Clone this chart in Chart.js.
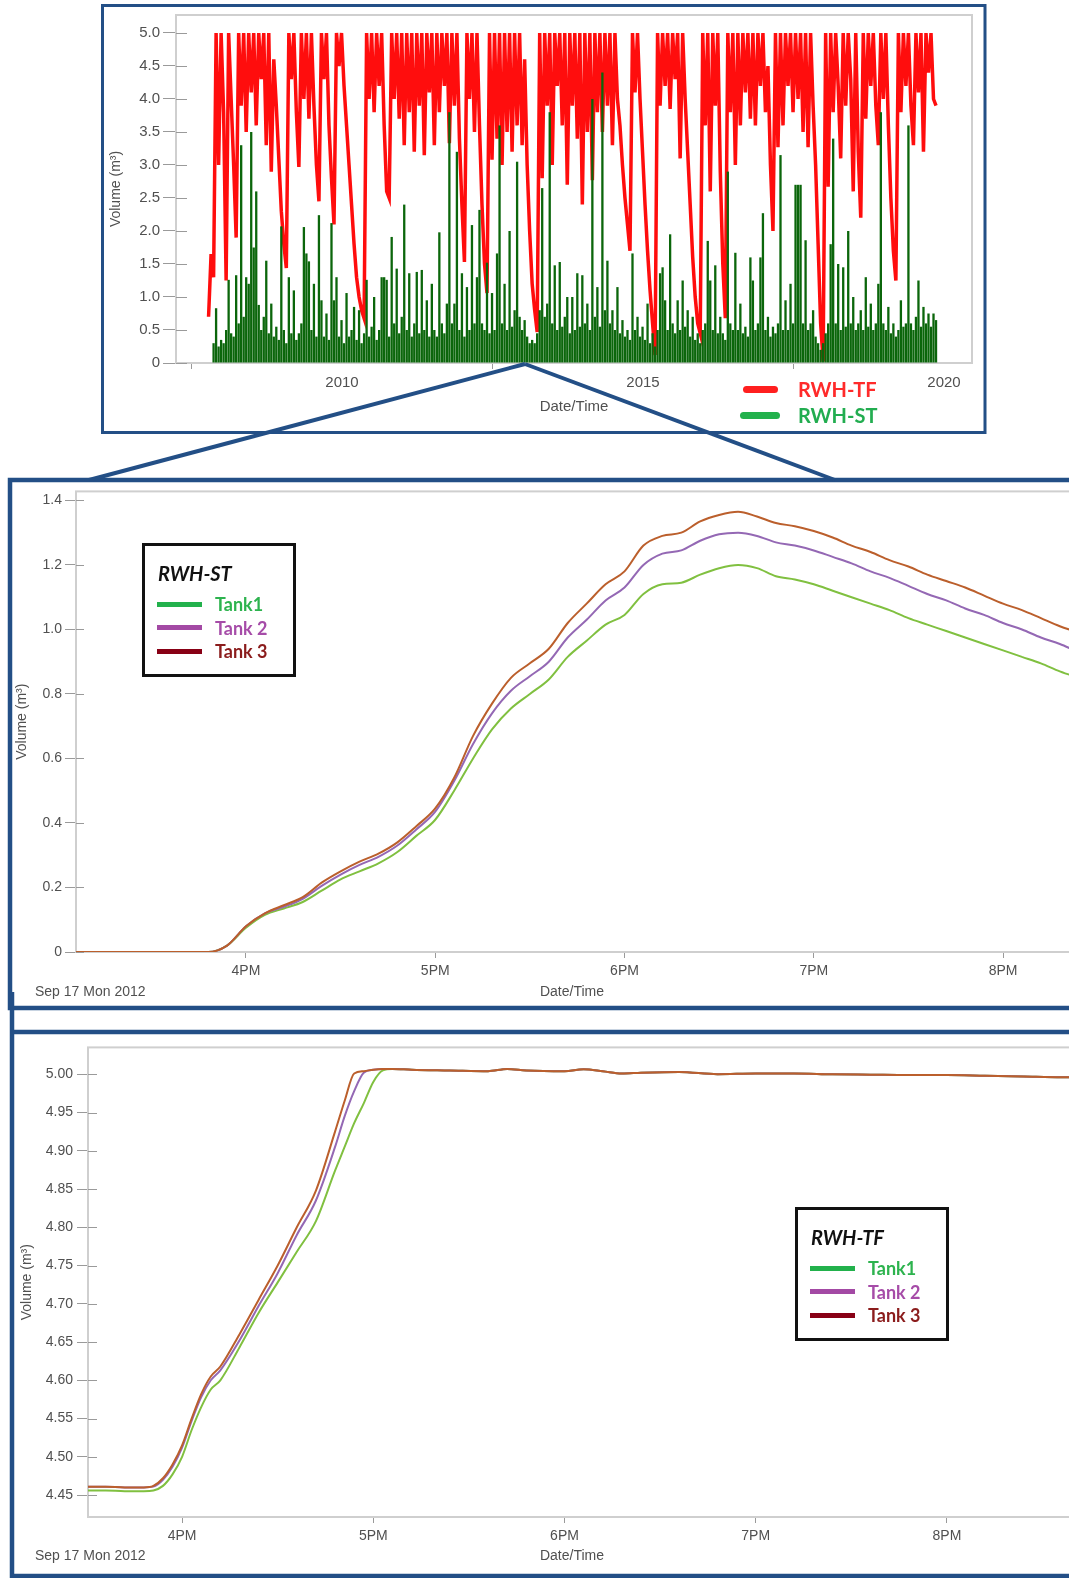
<!DOCTYPE html>
<html>
<head>
<meta charset="utf-8">
<script src="https://cdn.jsdelivr.net/npm/chart.js@4.4.1/dist/chart.umd.min.js"></script>
<style>
  html, body { margin: 0; padding: 0; background: #fff; width: 1069px; height: 1578px; overflow: hidden; }
  body { position: relative; font-family: 'Liberation Sans', Arial, sans-serif; }
  canvas.chart { position: absolute; left: 0; }
  .note { position: absolute; color: #505050; font-size: 14px; line-height: 14px; white-space: nowrap; }
  .lgbox { position: absolute; border: 3px solid #111; box-sizing: border-box; background: #fff; z-index: 6; }
  .lgtitle { position: absolute; font-family: Lato, 'Open Sans', sans-serif; font-weight: 700; font-style: italic; font-size: 20px; line-height: 20px; color: #111; white-space: nowrap; z-index: 7; }
  .lgswatch { position: absolute; height: 5px; z-index: 7; }
  .lgtext { position: absolute; font-family: Lato, 'Open Sans', sans-serif; font-weight: 700; font-size: 18px; line-height: 18px; white-space: nowrap; z-index: 7; }
  #frames { position: absolute; left: 0; top: 0; pointer-events: none; z-index: 5; }
</style>
</head>
<body>
<canvas id="overview" class="chart" width="1000" height="440" style="top:0px"></canvas>
<canvas id="stDetail" class="chart" width="1130" height="530" style="top:480px"></canvas>
<canvas id="tfDetail" class="chart" width="1130" height="543" style="top:1035px"></canvas>

<script>
// ---------- Overview: tank volumes, one value every half month ----------
const overviewStart = 2007.784;      // first sample (decimal year)
const overviewStep = 1 / 24;         // half-month sampling
const yearTicks = [2010, 2015, 2020];
const overviewVolTicks = [0, 0.5, 1, 1.5, 2, 2.5, 3, 3.5, 4, 4.5, 5];

const rwhTF = [
  0.7, 1.65, 1.3, 5, 3.0, 5, 3.8, 1.25, 5, 4.0,
  3.0, 1.9, 5, 3.9, 5, 3.5, 5, 4.1, 5, 3.6,
  5, 4.3, 5, 3.3, 5, 2.9, 4.6, 3.9, 3.1, 2.3,
  1.8, 1.44, 5, 4.3, 5, 3.8, 2.97, 5, 4.0, 5,
  3.7, 5, 3.9, 3.0, 2.45, 5, 4.3, 5, 3.6, 2.8,
  2.1, 5, 4.5, 5, 4.2, 3.6, 3.0, 2.4, 1.8, 1.3,
  1.0, 0.8, 0.68, 5, 4.0, 5, 3.8, 5, 4.2, 5,
  3.6, 2.6, 2.5, 5, 4.0, 5, 3.7, 5, 3.3, 5,
  3.8, 5, 3.2, 5, 3.9, 5, 3.15, 5, 4.1, 5,
  3.3, 5, 3.8, 5, 4.2, 5, 3.33, 5, 3.9, 5,
  3.4, 2.4, 1.53, 5, 4.0, 5, 3.5, 5, 3.6, 2.4,
  1.5, 1.06, 5, 3.08, 5, 3.4, 5, 3.0, 5, 3.5,
  5, 3.2, 5, 3.6, 5, 3.3, 4.6, 3.0, 2.0, 1.2,
  0.8, 0.47, 5, 2.8, 5, 3.9, 5, 3.0, 5, 4.2,
  5, 3.6, 5, 2.7, 5, 3.9, 5, 3.4, 5, 2.4,
  5, 3.5, 5, 2.77, 5, 3.8, 5, 3.5, 5, 3.9,
  5, 3.3, 5, 4.0, 3.6, 3.0, 2.5, 2.1, 1.7, 5,
  4.1, 5, 4.0, 3.2, 2.4, 1.7, 1.1, 0.6, 0.12, 5,
  3.9, 5, 4.2, 5, 3.85, 5, 4.3, 5, 3.1, 5,
  4.0, 3.2, 2.4, 1.6, 1.0, 0.6, 0.45, 5, 3.6, 5,
  2.6, 5, 3.9, 5, 2.9, 1.5, 0.68, 5, 3.8, 5,
  3.0, 5, 3.6, 5, 4.1, 5, 3.7, 5, 3.6, 5,
  4.2, 5, 3.8, 4.5, 3.0, 2.0, 5, 3.27, 5, 3.6,
  5, 4.2, 5, 3.8, 5, 4.0, 5, 3.5, 5, 3.27,
  5, 3.9, 3.0, 1.8, 0.6, 0.02, 5, 2.67, 5, 3.8,
  5, 4.2, 3.1, 5, 3.9, 5, 4.3, 2.6, 5, 3.2,
  2.2, 5, 3.7, 5, 4.2, 5, 3.9, 3.3, 5, 4.0,
  5, 3.6, 2.5, 1.7, 1.25, 5, 3.8, 5, 4.2, 5,
  3.9, 3.3, 5, 4.1, 5, 3.2, 5, 4.4, 5, 4.0,
  3.9
];

const rwhST = [
  0, 0, 0.3, 0.83, 0.25, 0.35, 0.3, 0.5, 1.26, 0.45,
  0.4, 1.33, 0.6, 3.3, 0.7, 1.3, 1.2, 3.5, 1.75, 2.6,
  0.88, 0.5, 0.7, 1.55, 0.45, 0.9, 0.4, 0.55, 0.35, 2.07,
  0.5, 0.3, 1.3, 0.45, 1.1, 0.35, 0.45, 0.6, 2.06, 1.66,
  1.54, 0.5, 1.2, 0.4, 2.24, 0.95, 0.4, 0.75, 0.35, 2.12,
  0.95, 1.3, 0.4, 0.65, 0.3, 1.06, 0.4, 0.5, 0.85, 0.35,
  0.8, 0.3, 0.45, 1.26, 0.4, 0.55, 1.0, 0.35, 0.5, 1.3,
  1.3, 1.26, 0.4, 1.91, 0.6, 1.43, 0.45, 0.7, 2.4, 0.5,
  1.36, 0.4, 0.6, 1.38, 0.45, 1.41, 0.5, 0.95, 0.4, 1.2,
  0.5, 0.4, 1.98, 0.6, 0.45, 0.9, 3.8, 0.6, 0.9, 3.2,
  0.5, 1.36, 0.4, 1.15, 0.5, 2.09, 0.6, 1.3, 2.32, 0.6,
  0.5, 1.52, 0.45, 1.06, 0.5, 1.66, 3.6, 0.6, 1.2, 0.5,
  2.0, 0.55, 0.8, 3.05, 0.7, 0.5, 0.65, 0.4, 0.3, 0.35,
  0.3, 0.45, 0.8, 2.65, 0.7, 0.9, 3.8, 0.6, 1.48, 0.5,
  1.53, 0.55, 0.7, 1.0, 0.45, 1.0, 0.5, 1.36, 0.55, 1.33,
  0.6, 0.9, 0.5, 4.0, 0.7, 1.15, 0.55, 4.4, 0.8, 1.55,
  0.6, 0.8, 0.5, 1.15, 0.45, 0.65, 0.4, 0.5, 0.35, 1.66,
  0.5, 0.7, 0.4, 0.55, 0.35, 0.9, 0.3, 0.45, 0.25, 0.5,
  1.36, 1.45, 0.95, 0.5, 1.95, 0.6, 0.45, 0.95, 0.5, 1.25,
  0.55, 0.8, 0.4, 0.7, 0.35, 0.45, 0.3, 0.5, 0.6, 1.85,
  1.25, 0.5, 1.48, 0.45, 0.7, 0.45, 0.35, 2.9, 0.6, 0.5,
  1.67, 0.5, 0.9, 0.45, 0.55, 0.4, 1.6, 1.25, 0.5, 0.6,
  1.6, 2.27, 0.5, 0.7, 0.4, 0.55, 0.45, 0.6, 3.15, 0.5,
  0.95, 0.5, 1.2, 0.6, 2.7, 2.7, 2.7, 0.6, 1.86, 0.5,
  0.6, 0.8, 0.4, 0.3, 0.2, 0.3, 0.45, 0.6, 1.8, 3.4,
  0.6, 1.5, 0.5, 1.45, 0.55, 2.0, 0.6, 1.0, 0.5, 0.6,
  0.8, 0.5, 1.3, 0.55, 0.9, 0.5, 0.6, 1.2, 3.8, 0.6,
  0.5, 0.85, 0.45, 0.6, 0.4, 0.5, 0.95, 0.55, 0.6, 3.6,
  0.6, 0.5, 0.7, 1.25, 0.55, 0.85, 0.6, 0.75, 0.55, 0.75,
  0.65
];

// ---------- Detail: storage tank (RWH-ST), afternoon of 17 Sep 2012 ----------
const stHours = [
  15.1, 15.2, 15.3, 15.4, 15.5, 15.6, 15.7, 15.8, 15.9, 16.0,
  16.1, 16.2, 16.3, 16.4, 16.5, 16.6, 16.7, 16.8, 16.9, 17.0,
  17.1, 17.2, 17.3, 17.4, 17.5, 17.6, 17.7, 17.8, 17.9, 18.0,
  18.1, 18.2, 18.3, 18.4, 18.5, 18.6, 18.7, 18.8, 18.9, 19.0,
  19.1, 19.2, 19.3, 19.4, 19.5, 19.6, 19.7, 19.8, 19.9, 20.0,
  20.1, 20.2, 20.3, 20.4, 20.5, 20.6
];
const stTank1 = [
  0, 0, 0, 0, 0, 0, 0, 0, 0.02, 0.075,
  0.115, 0.135, 0.155, 0.19, 0.225, 0.25, 0.275, 0.31, 0.36, 0.41,
  0.50, 0.60, 0.69, 0.755, 0.80, 0.845, 0.915, 0.965, 1.015, 1.045,
  1.11, 1.14, 1.145, 1.17, 1.19, 1.20, 1.19, 1.165, 1.155, 1.14,
  1.12, 1.10, 1.08, 1.06, 1.035, 1.015, 0.995, 0.975, 0.955, 0.935,
  0.915, 0.895, 0.87, 0.85, 0.83, 0.81
];
const stTank2 = [
  0, 0, 0, 0, 0, 0, 0, 0, 0.02, 0.08,
  0.12, 0.14, 0.165, 0.205, 0.24, 0.27, 0.295, 0.33, 0.38, 0.435,
  0.53, 0.645, 0.74, 0.81, 0.855, 0.90, 0.975, 1.03, 1.09, 1.13,
  1.20, 1.235, 1.245, 1.275, 1.295, 1.30, 1.29, 1.27, 1.26, 1.245,
  1.225, 1.205, 1.18, 1.16, 1.135, 1.11, 1.09, 1.065, 1.045, 1.02,
  1.00, 0.975, 0.955, 0.93, 0.91, 0.885
];
const stTank3 = [
  0, 0, 0, 0, 0, 0, 0, 0, 0.02, 0.08,
  0.12, 0.145, 0.17, 0.215, 0.25, 0.28, 0.305, 0.34, 0.39, 0.445,
  0.54, 0.67, 0.77, 0.85, 0.895, 0.94, 1.02, 1.08, 1.14, 1.18,
  1.26, 1.29, 1.30, 1.335, 1.355, 1.365, 1.35, 1.33, 1.32, 1.305,
  1.285, 1.26, 1.24, 1.215, 1.195, 1.17, 1.15, 1.13, 1.105, 1.08,
  1.06, 1.035, 1.01, 0.99, 0.965, 0.94
];
const stVolTicks = [0, 0.2, 0.4, 0.6, 0.8, 1.0, 1.2, 1.4];

// ---------- Detail: tank-feed system (RWH-TF), same afternoon ----------
const tfHours = [
  15.5, 15.6, 15.7, 15.8, 15.85, 15.9, 15.95, 16.0, 16.05, 16.1,
  16.15, 16.2, 16.3, 16.4, 16.5, 16.6, 16.7, 16.8, 16.85, 16.9,
  16.95, 17.0, 17.05, 17.1, 17.2, 17.4, 17.6, 17.7, 17.8, 18.0,
  18.1, 18.2, 18.3, 18.4, 18.6, 18.8, 19.0, 19.2, 19.4, 19.6,
  19.8, 20.0, 20.2, 20.4, 20.6, 20.8
];
const tfTank1 = [
  4.456, 4.456, 4.455, 4.455, 4.456, 4.462, 4.477, 4.500, 4.535, 4.565,
  4.588, 4.600, 4.643, 4.688, 4.728, 4.768, 4.808, 4.874, 4.905, 4.936,
  4.962, 4.990, 5.005, 5.007, 5.006, 5.005, 5.004, 5.007, 5.005, 5.004,
  5.0065, 5.004, 5.001, 5.002, 5.003, 5.000, 5.001, 5.001, 5.000, 4.9995,
  4.999, 4.999, 4.998, 4.997, 4.996, 4.996
];
const tfTank2 = [
  4.461, 4.461, 4.460, 4.460, 4.461, 4.470, 4.487, 4.512, 4.547, 4.578,
  4.600, 4.613, 4.652, 4.697, 4.740, 4.790, 4.835, 4.905, 4.945, 4.978,
  5.002, 5.006, 5.007, 5.007, 5.006, 5.005, 5.004, 5.007, 5.005, 5.004,
  5.0065, 5.004, 5.001, 5.002, 5.003, 5.000, 5.001, 5.001, 5.000, 4.9995,
  4.999, 4.999, 4.998, 4.997, 4.996, 4.996
];
const tfTank3 = [
  4.461, 4.461, 4.460, 4.460, 4.462, 4.472, 4.490, 4.515, 4.550, 4.582,
  4.605, 4.618, 4.660, 4.705, 4.750, 4.800, 4.848, 4.925, 4.965, 5.001,
  5.004, 5.006, 5.007, 5.007, 5.006, 5.005, 5.004, 5.007, 5.005, 5.004,
  5.0065, 5.004, 5.001, 5.002, 5.003, 5.000, 5.001, 5.001, 5.000, 4.9995,
  4.999, 4.999, 4.998, 4.997, 4.996, 4.996
];
const tfVolTicks = [4.45, 4.50, 4.55, 4.60, 4.65, 4.70, 4.75, 4.80, 4.85, 4.90, 4.95, 5.00];

const hourTicks = [16, 17, 18, 19, 20];
const hourLabels = ['4PM', '5PM', '6PM', '7PM', '8PM'];
const dayLabel = 'Sep 17 Mon 2012';
const tankNames = ['Tank1', 'Tank 2', 'Tank 3'];
const tankLineColors = ['#80c040', '#9468b4', '#bb5f2c'];
const tankKeyColors = ['#22b14c', '#a349a4', '#880015'];
const tankTextColors = ['#2db34e', '#a64ca8', '#8b1c1c'];
const calloutYear = 2013.04;   // where the detail callout is anchored on the overview axis

// ---------- shared styling ----------
const FONT = "'Liberation Sans', Arial, sans-serif";
const TEXT_GREY = '#505050';
const TICK_GREY = '#9a9a9a';
const BOX_GREY = '#cfcfcf';
const FRAME_BLUE = '#234f86';

// light grey box round the plot plus short tick stubs pointing into it
const plotBox = {
  id: 'plotBox',
  beforeDatasetsDraw(chart, args, opts) {
    const { ctx, chartArea: a } = chart;
    const y = chart.scales.y;
    ctx.save();
    ctx.strokeStyle = BOX_GREY;
    ctx.lineWidth = 2;
    ctx.strokeRect(a.left, a.top, a.right - a.left, a.bottom - a.top);
    ctx.strokeStyle = TICK_GREY;
    ctx.lineWidth = 1;
    y.ticks.forEach(t => {
      const py = Math.round(y.getPixelForValue(t.value)) + 0.5;
      ctx.beginPath();
      ctx.moveTo(a.left, py);
      ctx.lineTo(a.left + opts.inner, py);
      ctx.stroke();
    });
    ctx.restore();
  }
};

function tickFont(size) { return { family: FONT, size: size }; }

// ---------- overview chart ----------
const overviewX = rwhTF.map((_, i) => overviewStart + i * overviewStep);

const overview = new Chart(document.getElementById('overview'), {
  type: 'line',
  data: {
    datasets: [
      {
        label: 'RWH-ST', type: 'bar', order: 0,
        data: rwhST.map((v, i) => ({ x: overviewX[i], y: v })),
        backgroundColor: '#0b660b', borderWidth: 0,
        barPercentage: 0.92, categoryPercentage: 1
      },
      {
        label: 'RWH-TF', order: 1,
        data: rwhTF.map((v, i) => ({ x: overviewX[i], y: v })),
        borderColor: '#ff0d0d', borderWidth: 3.5, pointRadius: 0, tension: 0, fill: false,
        borderJoinStyle: 'miter'
      }
    ]
  },
  options: {
    responsive: false, animation: false, devicePixelRatio: 1, events: [],
    layout: { padding: { top: 15, right: 28, left: 0, bottom: 0 } },
    plugins: { legend: { display: false }, tooltip: { enabled: false }, plotBox: { inner: 11 } },
    scales: {
      x: {
        type: 'linear', min: 2007.243, max: 2020.465, offset: false,
        afterBuildTicks: s => { s.ticks = yearTicks.map(v => ({ value: v })); },
        ticks: { autoSkip: false, maxRotation: 0, padding: 5, color: TEXT_GREY, font: tickFont(15), callback: v => String(v) },
        grid: { drawOnChartArea: false, tickLength: 6, tickColor: TICK_GREY },
        border: { display: false },
        title: { display: true, text: 'Date/Time', color: TEXT_GREY, font: tickFont(15), padding: { top: 0, bottom: 24 } },
        afterFit: s => { s.height = 77; }
      },
      y: {
        type: 'linear', min: 0, max: 5.2727,
        afterBuildTicks: s => { s.ticks = overviewVolTicks.map(v => ({ value: v })); },
        ticks: { autoSkip: false, padding: 3, color: TEXT_GREY, font: tickFont(15), callback: v => (v === 0 ? '0' : v.toFixed(1)) },
        grid: { drawOnChartArea: false, tickLength: 13, tickColor: TICK_GREY },
        border: { display: false },
        title: { display: true, text: 'Volume (m³)', color: TEXT_GREY, font: tickFont(14), padding: { top: 108, bottom: 0 } },
        afterFit: s => { s.width = 176; }
      }
    }
  },
  plugins: [plotBox]
});

// ---------- detail charts ----------
function detailChart(canvasId, hours, series, cfg) {
  return new Chart(document.getElementById(canvasId), {
    type: 'line',
    data: {
      datasets: series.map((vals, k) => ({
        label: tankNames[k],
        order: 3 - k,
        data: vals.map((v, i) => ({ x: hours[i], y: v })),
        borderColor: tankLineColors[k], borderWidth: 2, pointRadius: 0,
        tension: 0.35, cubicInterpolationMode: 'monotone', fill: false
      }))
    },
    options: {
      responsive: false, animation: false, devicePixelRatio: 1, events: [],
      layout: { padding: { top: cfg.padTop, right: cfg.padRight, left: 0, bottom: 0 } },
      plugins: { legend: { display: false }, tooltip: { enabled: false }, plotBox: { inner: cfg.inner } },
      scales: {
        x: {
          type: 'linear', min: cfg.xMin, max: cfg.xMax, offset: false,
          afterBuildTicks: s => { s.ticks = hourTicks.map(v => ({ value: v })); },
          ticks: { autoSkip: false, maxRotation: 0, padding: 5, color: TEXT_GREY, font: tickFont(14),
                   callback: v => hourLabels[hourTicks.indexOf(v)] },
          grid: { drawOnChartArea: false, tickLength: 6, tickColor: TICK_GREY },
          border: { display: false },
          afterFit: s => { s.height = cfg.xHeight; }
        },
        y: {
          type: 'linear', min: cfg.yMin, max: cfg.yMax,
          afterBuildTicks: s => { s.ticks = cfg.yTicks.map(v => ({ value: v })); },
          ticks: { autoSkip: false, padding: cfg.yPad, color: TEXT_GREY, font: tickFont(14), callback: cfg.yFormat },
          grid: { drawOnChartArea: false, tickLength: 11, tickColor: TICK_GREY },
          border: { display: false },
          title: { display: true, text: 'Volume (m³)', color: TEXT_GREY, font: tickFont(14), padding: { top: cfg.titlePad, bottom: 0 } },
          afterFit: s => { s.width = cfg.yWidth; }
        }
      }
    },
    plugins: [plotBox]
  });
}

detailChart('stDetail', stHours, [stTank1, stTank2, stTank3], {
  padTop: 10, padRight: 13.4, xMin: 15.102, xMax: 20.6, xHeight: 58,
  yMin: 0, yMax: 1.428, yTicks: stVolTicks, yPad: 3, yWidth: 76, titlePad: 14, inner: 8,
  yFormat: v => (v === 0 ? '0' : v.toFixed(1))
});

detailChart('tfDetail', tfHours, [tfTank1, tfTank2, tfTank3], {
  padTop: 11, padRight: 32, xMin: 15.508, xMax: 20.79, xHeight: 61,
  yMin: 4.4213, yMax: 5.0351, yTicks: tfVolTicks, yPad: 4, yWidth: 88, titlePad: 19, inner: 9,
  yFormat: v => v.toFixed(2)
});

// ---------- free-standing text and keys ----------
function addEl(cls, text, style) {
  const d = document.createElement('div');
  d.className = cls;
  if (text) d.textContent = text;
  Object.assign(d.style, style);
  document.body.appendChild(d);
  return d;
}

addEl('note', dayLabel, { left: '35px', top: '984px' });
addEl('note', 'Date/Time', { left: '572px', top: '984px', transform: 'translateX(-50%)' });
addEl('note', dayLabel, { left: '35px', top: '1548px' });
addEl('note', 'Date/Time', { left: '572px', top: '1548px', transform: 'translateX(-50%)' });

// overview key
const overviewKeys = [
  { name: 'RWH-TF', swatch: '#ff1f1f', text: '#ff2a2a', top: 389, left: 743, width: 35 },
  { name: 'RWH-ST', swatch: '#22b14c', text: '#22ad50', top: 415, left: 740, width: 40 }
];
overviewKeys.forEach(k => {
  addEl('lgswatch', '', { left: k.left + 'px', top: (k.top - 3.5) + 'px', width: k.width + 'px', height: '7px', background: k.swatch, borderRadius: '3.5px' });
  addEl('lgtext', k.name, { left: '798px', top: (k.top - 10) + 'px', color: k.text, fontSize: '20px', lineHeight: '20px' });
});

// boxed tank keys for the detail charts
function tankKey(title, left, top) {
  addEl('lgbox', '', { left: left + 'px', top: top + 'px', width: '154px', height: '134px' });
  addEl('lgtitle', title, { left: (left + 16) + 'px', top: (top + 20) + 'px' });
  tankNames.forEach((n, k) => {
    const cy = top + 61 + k * 23.5;
    addEl('lgswatch', '', { left: (left + 15) + 'px', top: (cy - 2.5) + 'px', width: '45px', background: tankKeyColors[k] });
    addEl('lgtext', n, { left: (left + 73) + 'px', top: (cy - 9) + 'px', color: tankTextColors[k] });
  });
}
tankKey('RWH-ST', 142, 543);
tankKey('RWH-TF', 795, 1207);

// ---------- blue frames and the callout lines ----------
const apexX = overview.scales.x.getPixelForValue(calloutYear);
const apexY = overview.chartArea.bottom + 1;
const NS = 'http://www.w3.org/2000/svg';
const svg = document.createElementNS(NS, 'svg');
svg.setAttribute('id', 'frames');
svg.setAttribute('width', '1069');
svg.setAttribute('height', '1578');
function svgEl(tag, attrs) {
  const e = document.createElementNS(NS, tag);
  Object.entries(attrs).forEach(([k, v]) => e.setAttribute(k, v));
  e.setAttribute('fill', 'none');
  e.setAttribute('stroke', FRAME_BLUE);
  svg.appendChild(e);
}
svgEl('rect', { x: 102.5, y: 5.5, width: 882.5, height: 427, 'stroke-width': 3 });
svgEl('rect', { x: 10, y: 480, width: 1200, height: 528, 'stroke-width': 4.5 });
svgEl('path', { d: 'M12 992 V1576 H1200', 'stroke-width': 4.5 });
svgEl('path', { d: 'M12 1032 H1200', 'stroke-width': 4.5 });
svgEl('line', { x1: apexX, y1: apexY, x2: 89, y2: 480, 'stroke-width': 4 });
svgEl('line', { x1: apexX, y1: apexY, x2: 835, y2: 480, 'stroke-width': 4 });
document.body.appendChild(svg);
</script>
</body>
</html>
